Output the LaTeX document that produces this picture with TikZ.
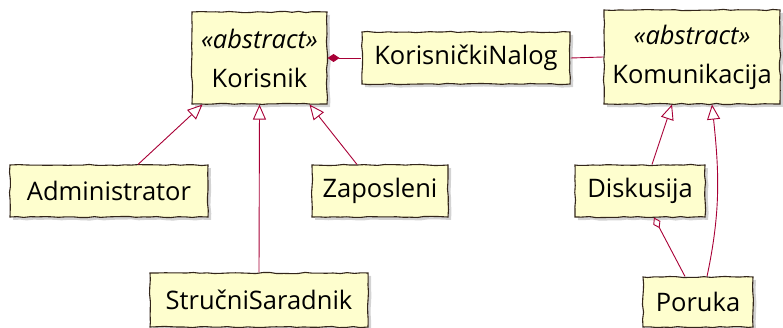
\documentclass[tikz,border=0pt]{standalone}
\usepackage{fontspec}
\setmainfont{Open Sans}
\usepackage{tikz}
\usetikzlibrary{arrows.meta,positioning,calc,shadows,decorations.pathmorphing}
\definecolor{umlfill}{HTML}{FEFECE}
\definecolor{umlline}{HTML}{A80036}
\definecolor{umlborder}{HTML}{33261A}

\begin{document}
\begin{tikzpicture}[x=1pt,y=-1pt,
    classbox/.style={draw=umlborder,line width=1.1pt,fill=umlfill,inner sep=0pt,
      font=\fontsize{25.5}{28}\selectfont,align=center,
      decorate,decoration={random steps,segment length=7pt,amplitude=0.6pt},
      drop shadow={shadow xshift=3pt,shadow yshift=-3pt,opacity=0.35}},
    rel/.style={draw=umlline,line width=0.9pt},
    inherit/.style={rel,-{Triangle[open,length=15pt,width=13pt]}},
    owns/.style={rel,{Diamond[length=12pt,width=8pt]}-},
    part/.style={rel,{Diamond[open,length=12pt,width=8pt]}-}]
  \pgfmathsetseed{7}
  \useasboundingbox (0,0) rectangle (783,328);
  % classes
  \node[classbox,minimum width=135pt,minimum height=92pt] (kor) at (259.5,58)
    {\textit{«abstract»}\\[11pt]Korisnik};
  \node[classbox,minimum width=208pt,minimum height=52pt] (nalog) at (466,58)
    {KorisničkiNalog};
  \node[classbox,minimum width=176pt,minimum height=94pt] (kom) at (692,57)
    {\textit{«abstract»}\\[11pt]Komunikacija};
  \node[classbox,minimum width=198pt,minimum height=52pt] (admin) at (109,191)
    {Administrator};
  \node[classbox,minimum width=136pt,minimum height=52pt] (zap) at (380,191)
    {Zaposleni};
  \node[classbox,minimum width=218pt,minimum height=54pt] (strucni) at (259,300)
    {StručniSaradnik};
  \node[classbox,minimum width=130pt,minimum height=52pt] (disk) at (640,191)
    {Diskusija};
  \node[classbox,minimum width=110pt,minimum height=50pt] (poruka) at (698,302)
    {Poruka};
  % relations
  \draw[inherit] ($(admin.north)+(29,0)$) -- ($(kor.south)+(-57,0)$);
  \draw[inherit] (strucni.north) -- (kor.south);
  \draw[inherit] ($(zap.north)+(-23,0)$) -- ($(kor.south)+(50,0)$);
  \draw[owns] (kor.east) -- (nalog.west);
  \draw[rel] (nalog.east) -- (kom.west);
  \draw[inherit] ($(disk.north)+(12,0)$) -- ($(kom.south)+(-20,0)$);
  \draw[inherit] ($(poruka.north)+(9,0)$) to[out=78,in=-84] ($(kom.south)+(20,0)$);
  \draw[part] ($(disk.south)+(14,0)$) -- ($(poruka.north)+(-13,0)$);
\end{tikzpicture}
\end{document}
